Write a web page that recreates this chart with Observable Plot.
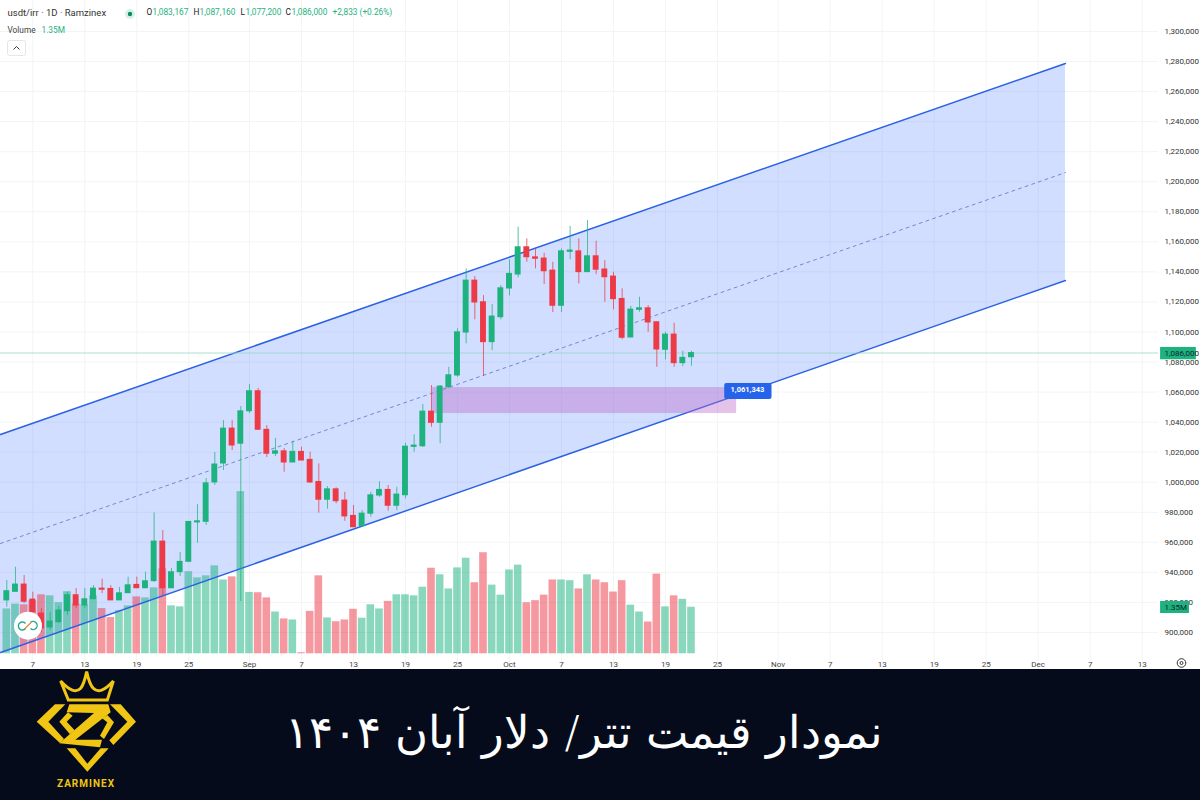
<!DOCTYPE html>
<html><head><meta charset="utf-8">
<script src="https://cdn.jsdelivr.net/npm/d3@7"></script>
<script src="https://cdn.jsdelivr.net/npm/@observablehq/plot@0.6"></script>
<style>
html,body{margin:0;padding:0;background:#fff;width:1200px;height:800px;overflow:hidden}
#chart svg{display:block}
#footer{position:relative;width:1200px;height:131px;background:#050b1b;overflow:hidden}
#title{position:absolute;left:234px;width:700px;top:37px;text-align:center;direction:rtl;color:#fff;font:200 45px "DejaVu Sans",sans-serif;white-space:nowrap;line-height:54px}
#logo{position:absolute;left:0;top:-4px}
</style></head><body>
<div id="chart"></div>
<div id="footer">
<svg id="logo" width="200" height="134" viewBox="0 0 600 402">
<g fill="#f0c514">
<path d="M205 105 L182 48 Q222 92 242 70 Q252 58 260 20 Q268 58 280 70 Q300 92 340 48 L322 105 Z" fill="none" stroke="#f0c514" stroke-width="9" stroke-linejoin="miter"/>
<path d="M165 118 L196 118 L145 170 L192 222 L180 234 L110 170 Z"/>
<path d="M330 118 L362 118 L408 170 L340 240 L328 226 L382 170 Z"/>
<path d="M200 250 L262 320 L326 250 L302 250 L262 296 L226 250 Z"/>
<path d="M208 118 L325 118 L332 142 L226 224 L306 224 L300 247 L178 235 L282 144 L200 142 Z"/>
<path d="M204 142 L178 170 L210 208 L224 196 L200 170 L218 152 Z"/>
<path d="M322 150 L342 172 L312 222 L300 212 L322 172 L306 160 Z"/>
</g>
<text x="258" y="365" text-anchor="middle" fill="#f0c514" font-family="Roboto,sans-serif" font-weight="700" font-size="30" letter-spacing="3">ZARMINEX</text>
</svg>
<div id="title">نمودار قیمت تتر/ دلار آبان ۱۴۰۴</div>
</div>
<script>
// Prices in thousands of IRR, one per day from 2025-08-04
const firstDay = "2025-08-04";
const open = [921.3,927.0,931.9,921.9,912.6,903.3,906.8,914.1,924.8,917.9,
922.1,929.2,929.0,921.3,926.1,931.7,929.4,934.1,960.5,929.4,
940.1,947.0,973.2,973.6,999.8,1012.4,1035.7,1025.6,1047.2,1060.6,
1034.9,1018.9,1020.6,1013.1,1020.2,1014.9,1000.2,988.3,995.3,987.8,
977.6,970.7,979.0,991.1,994.9,984.3,991.3,1023.5,1023.9,1047.0,
1039.5,1063.2,1071.0,1099.6,1134.2,1119.8,1093.2,1109.8,1128.9,1138.2,
1156.4,1149.7,1148.9,1140.9,1117.4,1153.3,1153.7,1139.8,1150.4,1141.6,
1136.9,1122.0,1096.3,1114.7,1115.8,1106.5,1088.1,1098.3,1079.2,1083.167];
const close = [927.5,931.9,920.4,913.5,902.6,907.3,914.6,924.8,917.9,922.1,
929.2,928.4,921.3,926.1,931.4,929.4,934.1,960.5,929.4,940.1,
947.0,973.6,974.0,999.3,1011.8,1035.7,1024.4,1047.2,1060.6,1034.9,
1018.9,1020.6,1013.1,1020.2,1014.4,999.8,988.3,995.3,987.3,977.2,
970.0,979.1,991.3,994.9,984.3,991.8,1023.7,1024.4,1047.0,1039.5,
1063.7,1071.2,1099.8,1134.2,1119.6,1093.2,1110.3,1129.1,1138.7,1156.4,
1149.7,1148.7,1140.4,1117.4,1153.7,1154.2,1139.8,1150.4,1141.4,1136.4,
1121.8,1096.1,1114.9,1115.8,1106.3,1088.3,1098.3,1079.2,1082.8,1086.0];
const high = [934.6,943.4,937.9,926.8,915.9,913.3,917.2,926.8,929.2,929.2,
931.2,935.4,931.2,929.9,936.8,936.8,940.1,979.6,967.8,942.5,
953.2,973.8,985.1,1002.4,1019.7,1041,1041,1050.4,1065,1062.4,
1037.7,1029.1,1022.4,1027.3,1023.3,1020,1012.2,997.1,996.3,993.3,
984.5,981.1,993.3,1000.4,997.8,996.7,1025.9,1031.5,1051.7,1064.3,
1064.3,1076.5,1102.1,1142,1136.9,1124.2,1118.3,1130.9,1148,1169.7,
1162,1155.3,1152.4,1146.4,1155.3,1170.2,1162,1174.2,1160.4,1147.5,
1139.8,1128.7,1117.1,1123.1,1117.6,1106.5,1099.8,1105.8,1087.2,1087.16];
const low = [916.8,927,919.3,911.3,899.9,901.3,905.9,911.3,915.9,915.9,
921.9,925.9,921.3,921.3,925.9,929.2,929.2,933.4,924.6,929.2,
937.2,947.2,959.4,971.2,997.8,1007.8,1021.1,920.6,1045.7,1034.4,
1016.4,1017.1,1006.6,1013.1,1014.4,999.3,979.4,982,985.6,974,
969.8,970,976.7,990,980.7,981.1,988.9,1020,1023.1,1036.6,
1025.6,1062.4,1069.9,1092.1,1108.1,1070.3,1087.6,1108.1,1124,1136,
1146.4,1142,1131.6,1112.9,1112.9,1148,1132,1139.8,1138.2,1119.8,
1114.7,1094.8,1096.3,1113.1,1099.8,1076.5,1081.4,1076.5,1077,1077.2];
// Volume in millions
const volume = [1.30,1.44,1.42,1.54,1.71,1.68,1.48,1.80,1.44,1.42,
1.68,1.31,1.05,1.25,1.39,1.65,1.62,1.91,2.46,1.39,
1.36,2.38,2.20,2.26,2.55,2.14,2.23,4.70,1.78,1.77,
1.62,1.21,1.01,0.98,0.03,1.23,2.26,1.04,0.93,0.98,
1.29,1.03,1.42,1.30,1.52,1.71,1.71,1.68,1.93,2.48,
2.29,1.88,2.49,2.77,2.06,2.93,1.99,1.70,2.43,2.57,
1.48,1.54,1.70,2.14,2.14,2.12,1.88,2.29,2.14,2.06,
1.79,2.12,1.41,1.21,0.92,2.31,1.36,1.68,1.58,1.35];

const priceTicks = [900,920,940,960,980,1000,1020,1040,1060,1080,1100,1120,1140,1160,1180,1200,1220,1240,1260,1280,1300];
const dateTicks = ["2025-08-07","2025-08-13","2025-08-19","2025-08-25","2025-09-01","2025-09-07","2025-09-13","2025-09-19","2025-09-25","2025-10-01","2025-10-07","2025-10-13","2025-10-19","2025-10-25","2025-11-01","2025-11-07","2025-11-13","2025-11-19","2025-11-25","2025-12-01","2025-12-07","2025-12-13"];
const dateLabels = ["7","13","19","25","Sep","7","13","19","25","Oct","7","13","19","25","Nov","7","13","19","25","Dec","7","13"];

// Regression channel: [start, end]
const channelX = ["2025-08-03T06:33Z","2025-12-04T03:36Z"];
const channelUpper = [1031.8,1278.7];
const channelMid = [959.2,1206.1];
const channelLower = [886.7,1134.3];

const zone = {x1:"2025-09-22T03:00Z", x2:"2025-10-27T05:00Z", y1:1045.7, y2:1063};
const lastPrice = 1086;
const lastVolumeLabel = "1.35M";
const tagPrice = 1061.343;

const GREEN="#1db27e", RED="#ec3a46", BLUE="#2962ff";
const T = s => new Date(s);
const DAY = 864e5;
const paneEnd = T("2025-12-14T21:00Z");
const volBase = 885.8, volK = 22.96;   // volume pane placed under the candles, in price units

const days = d3.utcDay.range(T(firstDay+"T00:00Z"), T("2025-10-23T00:00Z"));
const candles = days.map((date,i)=>({date,open:open[i],close:close[i],high:high[i],low:low[i],vol:volume[i],up:close[i]>=open[i]}));
const channel = channelX.map((x,i)=>({x:T(x),u:channelUpper[i],m:channelMid[i],l:channelLower[i]}));
const grouped = [[candles.filter(d=>d.up),GREEN],[candles.filter(d=>!d.up),RED]];
const fmt = d3.format(",");
const tick = priceTicks.map(p=>({p,label:fmt(p*1000)}));
const dt = dateTicks.map((d,i)=>({d:T(d+"T00:00Z"),label:dateLabels[i]}));

const hdrFont = "Roboto,sans-serif";
const ohlc = [
 ["O",146,"#222"],["1,083,167",152,GREEN],["H",193,"#222"],["1,087,160",199,GREEN],
 ["L",240,"#222"],["1,077,200",245,GREEN],["C",285,"#222"],["1,086,000",291,GREEN],["+2,833 (+0.26%)",332,GREEN]
];

const chrome = () => {
  const g = d3.create("svg:g");
  g.append("rect").attr("x",7.5).attr("y",40.5).attr("width",18).attr("height",15).attr("rx",2).attr("fill","#fff").attr("stroke","#e4e6ea");
  g.append("path").attr("d","M13.5 49.5 L16.5 46.5 L19.5 49.5").attr("fill","none").attr("stroke","#333").attr("stroke-width",1);
  g.append("circle").attr("cx",130).attr("cy",14).attr("r",5).attr("fill","#d6f1e6");
  g.append("circle").attr("cx",130).attr("cy",14).attr("r",2.2).attr("fill","#0b8a60");
  g.append("circle").attr("cx",28).attr("cy",625.7).attr("r",14).attr("fill","#fff");
  g.append("path").attr("d","M25.5 623.5 A4 4 0 1 0 25.5 628.5").attr("fill","none").attr("stroke","#2aa78f").attr("stroke-width",1.4);
  g.append("path").attr("d","M30.5 628.5 A4 4 0 1 0 30.5 622.5").attr("fill","none").attr("stroke","#2aa78f").attr("stroke-width",1.4);
  g.append("path").attr("d","M24.5 629 L31 622.5").attr("stroke","#e8894f").attr("stroke-width",1.4);
  g.append("circle").attr("cx",1181.5).attr("cy",663).attr("r",4.3).attr("fill","none").attr("stroke","#333");
  g.append("circle").attr("cx",1181.5).attr("cy",663).attr("r",1.5).attr("fill","none").attr("stroke","#333");
  return g.node();
};

const plot = Plot.plot({
  width:1200, height:669, margin:0,
  style:{background:"#fff",overflow:"hidden"},
  x:{type:"utc",domain:[T("2025-08-03T06:33Z"),T("2025-12-19T17:31Z")],range:[0,1200],axis:null},
  y:{type:"linear",domain:[875.34,1320.63],range:[669,0],axis:null},
  marks:[
    // grid
    Plot.ruleY(priceTicks,{y:d=>d,x1:T(channelX[0]),x2:paneEnd,stroke:"#f3f4f6",strokeWidth:1}),
    Plot.ruleX(dt,{x:"d",y1:875.34,y2:1320.63,stroke:"#f3f4f6",strokeWidth:1}),
    // channel band
    Plot.areaY(channel,{x:"x",y1:"l",y2:"u",fill:BLUE,fillOpacity:0.21}),
    // volume
    ...grouped.map(([data,c])=>Plot.rect(data,{x1:d=>new Date(+d.date-0.44*DAY),x2:d=>new Date(+d.date+0.44*DAY),y1:volBase,y2:d=>volBase+d.vol*volK,fill:c,fillOpacity:0.52})),
    // channel lines
    Plot.line(channel,{x:"x",y:"u",stroke:"#2b62e3",strokeWidth:1.5}),
    Plot.line(channel,{x:"x",y:"l",stroke:"#2b62e3",strokeWidth:1.5}),
    Plot.line(channel,{x:"x",y:"m",stroke:"#7488d2",strokeWidth:1,strokeDasharray:"3,4"}),
    // demand zone
    Plot.rect([zone],{x1:d=>T(d.x1),x2:d=>T(d.x2),y1:"y1",y2:"y2",fill:"#ba68c8",fillOpacity:0.4}),
    // last price line
    Plot.ruleY([lastPrice],{x1:T(channelX[0]),x2:paneEnd,stroke:"#9bd6c6",strokeWidth:0.8}),
    // candles
    ...grouped.map(([data,c])=>Plot.ruleX(data,{x:"date",y1:"low",y2:"high",stroke:c,strokeWidth:1,strokeOpacity:0.75})),
    ...grouped.map(([data,c])=>Plot.rect(data,{x1:d=>new Date(+d.date-0.34*DAY),x2:d=>new Date(+d.date+0.34*DAY),y1:d=>Math.min(d.open,d.close)-0.3,y2:d=>Math.max(d.open,d.close)+0.3,fill:c})),
    // price axis labels
    Plot.text(tick,{x:paneEnd,y:"p",text:"label",dx:6,textAnchor:"start",fontSize:8,fontFamily:hdrFont,fill:"#333"}),
    // date axis labels
    Plot.text(dt,{x:"d",text:"label",frameAnchor:"bottom",dy:-3,fontSize:8,fontFamily:hdrFont,fill:"#444",fontWeight:d=>/[A-Z]/.test(d.label)?"500":"400"}),
    // value tags
    Plot.rect([0],{x1:T("2025-12-15T03:00Z"),x2:T("2025-12-19T06:00Z"),y1:1081.5,y2:1089.7,fill:GREEN}),
    Plot.text([lastPrice],{x:paneEnd,y:d=>d,text:d=>fmt(d*1000),dx:6,textAnchor:"start",fontSize:8,fontFamily:hdrFont,fill:"#123"}),
    Plot.rect([0],{x1:T("2025-12-15T03:00Z"),x2:T("2025-12-18T11:00Z"),y1:912.6,y2:920.6,fill:GREEN}),
    Plot.text([916.6],{x:paneEnd,y:d=>d,text:()=>lastVolumeLabel,dx:6,textAnchor:"start",fontSize:8,fontFamily:hdrFont,fill:"#123"}),
    Plot.rect([0],{x1:T("2025-10-25T20:00Z"),x2:T("2025-10-31T07:00Z"),y1:1055.0,y2:1065.7,fill:"#2563eb",rx:2}),
    Plot.text([tagPrice],{x:T("2025-10-26T12:00Z"),y:d=>d,text:d=>fmt(Math.round(d*1000)),textAnchor:"start",fontSize:7.5,fontWeight:700,fontFamily:hdrFont,fill:"#fff"}),
    // header
    Plot.text(["usdt/irr · 1D · Ramzinex"],{frameAnchor:"top-left",dx:7,dy:8.5,fontSize:9.5,fontFamily:hdrFont,fill:"#333"}),
    ...ohlc.map(([t,dx,c])=>Plot.text([t],{frameAnchor:"top-left",dx,dy:9,fontSize:8.3,fontFamily:hdrFont,fill:c})),
    Plot.text(["Volume"],{frameAnchor:"top-left",dx:7,dy:27,fontSize:8.3,fontFamily:hdrFont,fill:"#444"}),
    Plot.text(["1.35M"],{frameAnchor:"top-left",dx:41,dy:27,fontSize:8.3,fontFamily:hdrFont,fill:GREEN}),
    chrome
  ]
});
document.getElementById("chart").appendChild(plot);
</script>
</body></html>
